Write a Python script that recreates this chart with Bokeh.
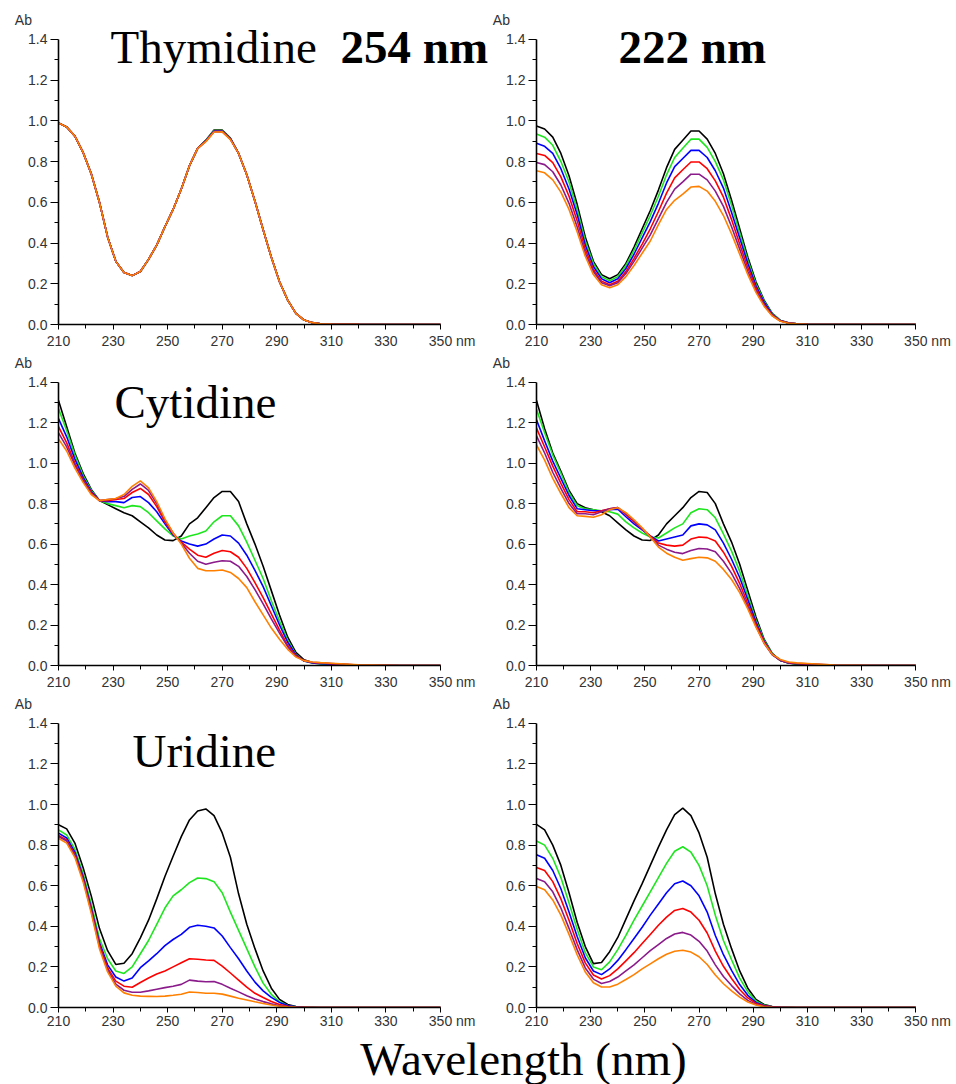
from bokeh.plotting import figure
from bokeh.models import Range1d, FixedTicker, PrintfTickFormatter, Label, AllLabels
from bokeh.layouts import column, row
from bokeh.embed import file_html
from bokeh.resources import INLINE

# ---------------- data ----------------
wavelength = [210, 213, 216, 219, 222, 225, 228, 231, 234, 237,
              240, 243, 246, 249, 252, 255, 258, 261, 264, 267,
              270, 273, 276, 279, 282, 285, 288, 291, 294, 297,
              300, 303, 306, 310, 320, 335, 350]

x_tick_labels = [210, 230, 250, 270, 290, 310, 330, 350]
x_minor_ticks = [220, 240, 260, 280, 300, 320, 340]
y_tick_labels = [0.0, 0.2, 0.4, 0.6, 0.8, 1.0, 1.2, 1.4]
y_minor_ticks = [0.1, 0.3, 0.5, 0.7, 0.9, 1.1, 1.3]

series_names = ["black", "green", "blue", "red", "purple", "orange"]
series_colors = ["#000000", "#1ee61e", "#0000ff", "#ff0000", "#8b1a8b", "#ff8000"]

# Thymidine, 254 nm
thy254_black = [0.99, 0.97, 0.925, 0.845, 0.74, 0.60, 0.43, 0.31, 0.255, 0.24,
                0.26, 0.32, 0.39, 0.48, 0.565, 0.665, 0.78, 0.865, 0.905, 0.955,
                0.955, 0.915, 0.84, 0.735, 0.605, 0.465, 0.33, 0.21, 0.12, 0.055,
                0.022, 0.009, 0.004, 0.002, 0.001, 0.0, 0.0]
thy254_green = [0.99, 0.97, 0.925, 0.845, 0.74, 0.60, 0.43, 0.31, 0.255, 0.24,
                0.26, 0.32, 0.39, 0.48, 0.565, 0.665, 0.78, 0.865, 0.903, 0.952,
                0.952, 0.913, 0.84, 0.735, 0.605, 0.465, 0.33, 0.21, 0.12, 0.055,
                0.022, 0.009, 0.004, 0.002, 0.001, 0.0, 0.0]
thy254_blue = [0.99, 0.97, 0.925, 0.845, 0.74, 0.60, 0.43, 0.31, 0.255, 0.24,
               0.26, 0.32, 0.39, 0.48, 0.565, 0.665, 0.78, 0.865, 0.902, 0.95,
               0.95, 0.912, 0.84, 0.735, 0.605, 0.465, 0.33, 0.21, 0.12, 0.055,
               0.022, 0.009, 0.004, 0.002, 0.001, 0.0, 0.0]
thy254_red = [0.99, 0.97, 0.925, 0.845, 0.74, 0.60, 0.43, 0.31, 0.255, 0.24,
              0.26, 0.32, 0.39, 0.48, 0.565, 0.665, 0.78, 0.865, 0.90, 0.948,
              0.948, 0.91, 0.84, 0.735, 0.605, 0.465, 0.33, 0.21, 0.12, 0.055,
              0.022, 0.009, 0.004, 0.002, 0.001, 0.0, 0.0]
thy254_purple = [0.99, 0.97, 0.925, 0.845, 0.74, 0.60, 0.43, 0.31, 0.255, 0.24,
                 0.26, 0.32, 0.39, 0.48, 0.565, 0.665, 0.78, 0.865, 0.90, 0.947,
                 0.947, 0.91, 0.84, 0.735, 0.605, 0.465, 0.33, 0.21, 0.12, 0.055,
                 0.022, 0.009, 0.004, 0.002, 0.001, 0.0, 0.0]
thy254_orange = [0.99, 0.97, 0.925, 0.845, 0.74, 0.60, 0.43, 0.31, 0.255, 0.24,
                 0.26, 0.32, 0.39, 0.48, 0.565, 0.665, 0.78, 0.865, 0.898, 0.945,
                 0.946, 0.908, 0.84, 0.735, 0.605, 0.465, 0.33, 0.21, 0.12, 0.055,
                 0.022, 0.009, 0.004, 0.002, 0.001, 0.0, 0.0]

# Thymidine, 222 nm
thy222_black = [0.975, 0.96, 0.92, 0.84, 0.73, 0.59, 0.43, 0.31, 0.245, 0.225,
                0.245, 0.30, 0.38, 0.47, 0.56, 0.66, 0.77, 0.86, 0.905, 0.95,
                0.95, 0.91, 0.84, 0.74, 0.61, 0.47, 0.33, 0.21, 0.12, 0.055,
                0.02, 0.008, 0.003, 0.001, 0.0, 0.0, 0.0]
thy222_green = [0.935, 0.92, 0.88, 0.80, 0.70, 0.565, 0.41, 0.30, 0.235, 0.215,
                0.235, 0.29, 0.365, 0.45, 0.535, 0.63, 0.735, 0.82, 0.865, 0.91,
                0.91, 0.87, 0.80, 0.71, 0.585, 0.45, 0.315, 0.20, 0.115, 0.053,
                0.02, 0.008, 0.003, 0.001, 0.0, 0.0, 0.0]
thy222_blue = [0.89, 0.875, 0.84, 0.765, 0.665, 0.54, 0.39, 0.285, 0.225, 0.205,
               0.225, 0.275, 0.345, 0.425, 0.505, 0.595, 0.695, 0.775, 0.815, 0.855,
               0.855, 0.82, 0.755, 0.67, 0.55, 0.425, 0.30, 0.19, 0.11, 0.05,
               0.019, 0.007, 0.003, 0.001, 0.0, 0.0, 0.0]
thy222_red = [0.84, 0.83, 0.795, 0.725, 0.63, 0.51, 0.37, 0.27, 0.213, 0.195,
              0.212, 0.26, 0.325, 0.395, 0.47, 0.555, 0.645, 0.72, 0.76, 0.798,
              0.798, 0.765, 0.705, 0.625, 0.515, 0.395, 0.28, 0.18, 0.10, 0.047,
              0.018, 0.007, 0.003, 0.001, 0.0, 0.0, 0.0]
thy222_purple = [0.795, 0.785, 0.75, 0.685, 0.595, 0.48, 0.35, 0.26, 0.205, 0.19,
                 0.205, 0.25, 0.31, 0.375, 0.44, 0.52, 0.60, 0.665, 0.70, 0.738,
                 0.738, 0.71, 0.655, 0.58, 0.48, 0.37, 0.26, 0.167, 0.095, 0.044,
                 0.017, 0.007, 0.003, 0.001, 0.0, 0.0, 0.0]
thy222_orange = [0.755, 0.745, 0.71, 0.65, 0.565, 0.455, 0.335, 0.245, 0.195, 0.18,
                 0.195, 0.235, 0.29, 0.35, 0.41, 0.49, 0.565, 0.61, 0.64, 0.675,
                 0.678, 0.655, 0.605, 0.535, 0.445, 0.345, 0.245, 0.158, 0.09, 0.042,
                 0.016, 0.006, 0.003, 0.001, 0.0, 0.0, 0.0]

# Cytidine, 254 nm
cyt254_black = [1.31, 1.18, 1.05, 0.95, 0.87, 0.815, 0.795, 0.775, 0.755, 0.74,
                0.71, 0.68, 0.645, 0.62, 0.617, 0.64, 0.70, 0.73, 0.78, 0.83,
                0.86, 0.86, 0.81, 0.70, 0.60, 0.49, 0.37, 0.25, 0.14, 0.065,
                0.028, 0.015, 0.01, 0.006, 0.002, 0.0, 0.0]
cyt254_green = [1.27, 1.16, 1.04, 0.94, 0.865, 0.815, 0.80, 0.79, 0.78, 0.79,
                0.785, 0.755, 0.715, 0.675, 0.64, 0.625, 0.64, 0.65, 0.665, 0.71,
                0.74, 0.74, 0.69, 0.61, 0.52, 0.43, 0.32, 0.22, 0.125, 0.055,
                0.022, 0.012, 0.008, 0.005, 0.002, 0.0, 0.0]
cyt254_blue = [1.22, 1.13, 1.02, 0.93, 0.86, 0.815, 0.81, 0.81, 0.805, 0.83,
               0.835, 0.805, 0.76, 0.70, 0.645, 0.615, 0.60, 0.59, 0.60, 0.625,
               0.645, 0.64, 0.605, 0.545, 0.47, 0.39, 0.295, 0.20, 0.115, 0.052,
               0.022, 0.013, 0.009, 0.006, 0.002, 0.0, 0.0]
cyt254_red = [1.18, 1.10, 1.00, 0.92, 0.855, 0.815, 0.815, 0.82, 0.825, 0.855,
              0.875, 0.845, 0.785, 0.71, 0.65, 0.61, 0.575, 0.545, 0.535, 0.555,
              0.568, 0.562, 0.535, 0.48, 0.41, 0.335, 0.255, 0.175, 0.10, 0.048,
              0.024, 0.015, 0.012, 0.009, 0.002, 0.0, 0.0]
cyt254_purple = [1.15, 1.08, 0.99, 0.915, 0.85, 0.815, 0.82, 0.825, 0.835, 0.87,
                 0.897, 0.865, 0.80, 0.72, 0.655, 0.605, 0.555, 0.515, 0.50, 0.51,
                 0.518, 0.515, 0.49, 0.44, 0.375, 0.305, 0.23, 0.16, 0.093, 0.045,
                 0.024, 0.016, 0.013, 0.01, 0.002, 0.0, 0.0]
cyt254_orange = [1.12, 1.06, 0.975, 0.905, 0.845, 0.815, 0.82, 0.825, 0.845, 0.885,
                 0.912, 0.878, 0.81, 0.725, 0.655, 0.60, 0.53, 0.48, 0.468, 0.468,
                 0.472, 0.46, 0.43, 0.385, 0.315, 0.25, 0.185, 0.13, 0.08, 0.042,
                 0.024, 0.017, 0.014, 0.011, 0.003, 0.0, 0.0]

# Cytidine, 222 nm
cyt222_black = [1.31, 1.17, 1.05, 0.96, 0.865, 0.80, 0.78, 0.77, 0.76, 0.74,
                0.705, 0.67, 0.64, 0.62, 0.618, 0.645, 0.70, 0.74, 0.78, 0.83,
                0.86, 0.855, 0.80, 0.70, 0.61, 0.50, 0.37, 0.24, 0.13, 0.06,
                0.025, 0.012, 0.007, 0.004, 0.001, 0.0, 0.0]
cyt222_green = [1.266, 1.15, 1.04, 0.95, 0.855, 0.79, 0.775, 0.77, 0.765, 0.76,
                0.748, 0.71, 0.68, 0.655, 0.635, 0.63, 0.655, 0.68, 0.70, 0.755,
                0.775, 0.77, 0.73, 0.65, 0.565, 0.465, 0.345, 0.225, 0.125, 0.058,
                0.025, 0.012, 0.008, 0.005, 0.001, 0.0, 0.0]
cyt222_blue = [1.214, 1.11, 1.01, 0.925, 0.84, 0.775, 0.77, 0.765, 0.765, 0.77,
               0.772, 0.735, 0.70, 0.67, 0.64, 0.615, 0.625, 0.635, 0.645, 0.69,
               0.70, 0.695, 0.67, 0.605, 0.525, 0.435, 0.325, 0.215, 0.12, 0.056,
               0.025, 0.013, 0.009, 0.006, 0.001, 0.0, 0.0]
cyt222_red = [1.173, 1.08, 0.985, 0.90, 0.82, 0.76, 0.76, 0.755, 0.765, 0.775,
              0.78, 0.745, 0.71, 0.675, 0.64, 0.605, 0.595, 0.59, 0.595, 0.625,
              0.635, 0.632, 0.615, 0.56, 0.49, 0.405, 0.305, 0.205, 0.115, 0.055,
              0.026, 0.014, 0.01, 0.007, 0.001, 0.0, 0.0]
cyt222_purple = [1.135, 1.05, 0.955, 0.875, 0.80, 0.75, 0.75, 0.745, 0.76, 0.775,
                 0.78, 0.75, 0.715, 0.675, 0.635, 0.595, 0.575, 0.56, 0.553, 0.568,
                 0.578, 0.576, 0.562, 0.515, 0.455, 0.38, 0.29, 0.195, 0.11, 0.053,
                 0.026, 0.015, 0.011, 0.008, 0.002, 0.0, 0.0]
cyt222_orange = [1.09, 1.015, 0.925, 0.85, 0.78, 0.74, 0.737, 0.733, 0.745, 0.77,
                 0.78, 0.755, 0.72, 0.68, 0.635, 0.585, 0.555, 0.535, 0.52, 0.528,
                 0.535, 0.532, 0.515, 0.475, 0.425, 0.36, 0.28, 0.19, 0.11, 0.055,
                 0.03, 0.017, 0.013, 0.01, 0.002, 0.0, 0.0]

# Uridine, 254 nm
uri254_black = [0.90, 0.88, 0.81, 0.69, 0.55, 0.39, 0.28, 0.212, 0.218, 0.265,
                0.343, 0.43, 0.535, 0.645, 0.745, 0.842, 0.924, 0.968, 0.978, 0.945,
                0.86, 0.74, 0.56, 0.41, 0.29, 0.18, 0.095, 0.04, 0.015, 0.005,
                0.002, 0.001, 0.0, 0.0, 0.0, 0.0, 0.0]
uri254_green = [0.875, 0.85, 0.78, 0.66, 0.51, 0.34, 0.24, 0.18, 0.168, 0.20,
                0.265, 0.33, 0.41, 0.49, 0.55, 0.58, 0.615, 0.638, 0.635, 0.62,
                0.565, 0.47, 0.38, 0.29, 0.20, 0.12, 0.065, 0.028, 0.01, 0.003,
                0.001, 0.0, 0.0, 0.0, 0.0, 0.0, 0.0]
uri254_blue = [0.859, 0.835, 0.765, 0.645, 0.49, 0.32, 0.21, 0.15, 0.13, 0.145,
               0.196, 0.23, 0.265, 0.305, 0.335, 0.36, 0.395, 0.405, 0.40, 0.392,
               0.352, 0.295, 0.24, 0.18, 0.125, 0.082, 0.05, 0.025, 0.01, 0.003,
               0.001, 0.0, 0.0, 0.0, 0.0, 0.0, 0.0]
uri254_red = [0.847, 0.825, 0.755, 0.635, 0.48, 0.31, 0.195, 0.13, 0.105, 0.10,
              0.123, 0.145, 0.165, 0.18, 0.20, 0.22, 0.24, 0.238, 0.234, 0.232,
              0.204, 0.17, 0.135, 0.10, 0.07, 0.049, 0.03, 0.015, 0.006, 0.002,
              0.001, 0.0, 0.0, 0.0, 0.0, 0.0, 0.0]
uri254_purple = [0.842, 0.82, 0.75, 0.63, 0.475, 0.30, 0.185, 0.115, 0.085, 0.075,
                 0.075, 0.082, 0.09, 0.098, 0.105, 0.114, 0.135, 0.13, 0.127, 0.128,
                 0.114, 0.095, 0.077, 0.058, 0.042, 0.029, 0.018, 0.009, 0.004, 0.001,
                 0.0, 0.0, 0.0, 0.0, 0.0, 0.0, 0.0]
uri254_orange = [0.834, 0.81, 0.74, 0.62, 0.465, 0.29, 0.175, 0.105, 0.072, 0.06,
                 0.056, 0.055, 0.054, 0.056, 0.06, 0.065, 0.076, 0.074, 0.07, 0.07,
                 0.066, 0.056, 0.046, 0.037, 0.028, 0.02, 0.012, 0.006, 0.003, 0.001,
                 0.0, 0.0, 0.0, 0.0, 0.0, 0.0, 0.0]

# Uridine, 222 nm
uri222_black = [0.902, 0.875, 0.80, 0.70, 0.565, 0.42, 0.30, 0.216, 0.222, 0.275,
                0.345, 0.435, 0.525, 0.61, 0.70, 0.79, 0.875, 0.95, 0.982, 0.945,
                0.86, 0.74, 0.56, 0.41, 0.29, 0.18, 0.095, 0.04, 0.015, 0.005,
                0.002, 0.001, 0.0, 0.0, 0.0, 0.0, 0.0]
uri222_green = [0.82, 0.80, 0.735, 0.64, 0.515, 0.385, 0.27, 0.20, 0.186, 0.225,
                0.285, 0.355, 0.43, 0.50, 0.57, 0.64, 0.71, 0.77, 0.792, 0.765,
                0.70, 0.60, 0.455, 0.33, 0.235, 0.145, 0.077, 0.032, 0.012, 0.004,
                0.001, 0.0, 0.0, 0.0, 0.0, 0.0, 0.0]
uri222_blue = [0.752, 0.735, 0.675, 0.585, 0.47, 0.35, 0.245, 0.18, 0.162, 0.19,
               0.232, 0.285, 0.34, 0.395, 0.455, 0.51, 0.565, 0.61, 0.623, 0.60,
               0.55, 0.47, 0.355, 0.26, 0.183, 0.113, 0.06, 0.025, 0.01, 0.003,
               0.001, 0.0, 0.0, 0.0, 0.0, 0.0, 0.0]
uri222_red = [0.69, 0.675, 0.62, 0.535, 0.43, 0.315, 0.22, 0.16, 0.14, 0.157,
              0.19, 0.23, 0.27, 0.315, 0.36, 0.405, 0.445, 0.478, 0.488, 0.47,
              0.43, 0.367, 0.278, 0.203, 0.143, 0.089, 0.047, 0.02, 0.008, 0.003,
              0.001, 0.0, 0.0, 0.0, 0.0, 0.0, 0.0]
uri222_purple = [0.636, 0.62, 0.57, 0.49, 0.39, 0.285, 0.195, 0.14, 0.118, 0.128,
                 0.15, 0.18, 0.21, 0.245, 0.28, 0.31, 0.34, 0.362, 0.37, 0.357,
                 0.326, 0.278, 0.21, 0.153, 0.108, 0.067, 0.035, 0.015, 0.006, 0.002,
                 0.001, 0.0, 0.0, 0.0, 0.0, 0.0, 0.0]
uri222_orange = [0.596, 0.58, 0.53, 0.455, 0.36, 0.26, 0.175, 0.122, 0.101, 0.101,
                 0.115, 0.138, 0.162, 0.19, 0.215, 0.24, 0.262, 0.277, 0.282, 0.273,
                 0.25, 0.212, 0.16, 0.117, 0.082, 0.051, 0.027, 0.012, 0.004, 0.001,
                 0.0, 0.0, 0.0, 0.0, 0.0, 0.0, 0.0]

# ---------------- styling / layout ----------------
SERIF = "Liberation Serif"
SANS = "Liberation Sans"
TICK_COLOR = "#333333"
NB = "\u00a0"

PX_PER_NM = 382 / 140.0      # 210..350 nm over 382 px
PX_PER_AB = 286 / 1.4        # 0..1.4 over 286 px

LW, RW = 489, 467            # column widths (page has no margin)
L_BORDER_L, R_BORDER_L = 58, 44


def make_panel(series, width, height, border_left, border_bottom, x_standoff=3):
    frame_w = width - border_left
    frame_h = height - border_bottom
    x_end = 210 + frame_w / PX_PER_NM
    y_end = frame_h / PX_PER_AB
    p = figure(width=width, height=height,
               x_range=Range1d(210, x_end), y_range=Range1d(0, y_end),
               toolbar_location=None, output_backend="svg",
               min_border_left=border_left, min_border_right=0,
               min_border_top=0, min_border_bottom=border_bottom)
    p.grid.visible = False
    p.outline_line_color = None
    p.background_fill_color = "white"
    p.border_fill_color = "white"
    for ys, col in zip(series, series_colors):
        p.line(wavelength, ys, line_color=col, line_width=1.6)

    xa = p.xaxis[0]
    ya = p.yaxis[0]
    xa.bounds = (210, 350)
    ya.bounds = (0, 1.4)
    xa.ticker = FixedTicker(ticks=x_tick_labels, minor_ticks=x_minor_ticks)
    ya.ticker = FixedTicker(ticks=y_tick_labels, minor_ticks=y_minor_ticks)
    ya.formatter = PrintfTickFormatter(format="%.1f")
    xa.major_label_overrides = {350: NB * 6 + "350 nm"}
    ya.major_label_overrides = {1.4: "Ab" + NB * 4 + "\n1.4\n" + NB}
    for ax in (xa, ya):
        ax.major_label_policy = AllLabels()
        ax.axis_line_color = "black"
        ax.axis_line_width = 1.6
        ax.major_tick_line_color = "black"
        ax.minor_tick_line_color = "black"
        ax.major_tick_line_width = 1
        ax.minor_tick_line_width = 1
        ax.major_tick_in = 0
        ax.minor_tick_in = 0
        ax.major_label_text_font = SANS
        ax.major_label_text_font_size = "14px"
        ax.major_label_text_color = TICK_COLOR
    xa.major_tick_out = 5
    xa.minor_tick_out = 4
    xa.major_label_standoff = x_standoff
    ya.major_tick_out = 8
    ya.minor_tick_out = 4
    ya.major_label_standoff = 3
    return p


def add_title(p, text, dx, dy, bold=False):
    p.add_layout(Label(x=210, y=1.4, x_offset=dx, y_offset=dy, text=text,
                       text_font=SERIF, text_font_size="47px",
                       text_font_style="bold" if bold else "normal",
                       text_color="black", text_baseline="alphabetic",
                       text_align="left"))


p1 = make_panel([thy254_black, thy254_green, thy254_blue, thy254_red, thy254_purple, thy254_orange],
                LW, 351, L_BORDER_L, 26)
p2 = make_panel([thy222_black, thy222_green, thy222_blue, thy222_red, thy222_purple, thy222_orange],
                RW, 351, R_BORDER_L, 26)
p3 = make_panel([cyt254_black, cyt254_green, cyt254_blue, cyt254_red, cyt254_purple, cyt254_orange],
                LW, 341, L_BORDER_L, 24)
p4 = make_panel([cyt222_black, cyt222_green, cyt222_blue, cyt222_red, cyt222_purple, cyt222_orange],
                RW, 341, R_BORDER_L, 24)
p5 = make_panel([uri254_black, uri254_green, uri254_blue, uri254_red, uri254_purple, uri254_orange],
                LW, 339, L_BORDER_L, 22, x_standoff=0)
p6 = make_panel([uri222_black, uri222_green, uri222_blue, uri222_red, uri222_purple, uri222_orange],
                RW, 339, R_BORDER_L, 22, x_standoff=0)

add_title(p1, "Thymidine", 52, -8)
add_title(p1, "254 nm", 282, -8, bold=True)
add_title(p2, "222 nm", 82, -8, bold=True)
add_title(p3, "Cytidine", 56, -20)
add_title(p5, "Uridine", 74, -28)

BH = 53
pb = figure(width=LW + RW, height=BH, x_range=Range1d(0, LW + RW), y_range=Range1d(0, BH),
            toolbar_location=None, output_backend="svg", min_border=0,
            x_axis_location=None, y_axis_location=None)
pb.grid.visible = False
pb.outline_line_color = None
pb.add_layout(Label(x=523, y=26, text="Wavelength (nm)", text_font=SERIF,
                    text_font_size="47px", text_color="black",
                    text_align="center", text_baseline="middle"))

layout = column(row(p1, p2), row(p3, p4), row(p5, p6), pb)

open("out.html", "w").write(file_html(layout, INLINE))
